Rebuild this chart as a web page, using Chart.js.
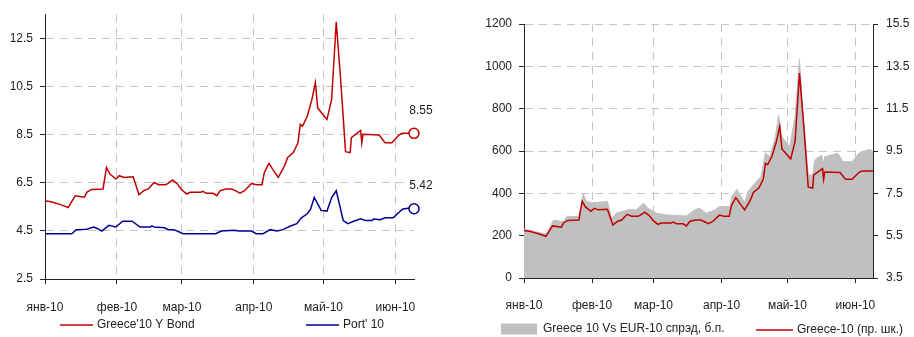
<!DOCTYPE html>
<html>
<head>
<meta charset="utf-8">
<script src="https://cdn.jsdelivr.net/npm/chart.js@4"></script>
<style>
  body { margin: 0; background: #fff; }
  canvas { position: absolute; top: 0; }
  #left { left: 0; }
  #right { left: 457px; }
</style>
</head>
<body>
<canvas id="left" width="457" height="337"></canvas>
<canvas id="right" width="457" height="337"></canvas>
<script>
// data (x = day of 2010, 0 = 1 Jan)
const monthDays = [0, 31, 59, 90, 120, 151];
const monthLabels = ['янв-10', 'фев-10', 'мар-10', 'апр-10', 'май-10', 'июн-10'];
const yieldTicks = [2.5, 4.5, 6.5, 8.5, 10.5, 12.5];
const spreadTicks = [0, 200, 400, 600, 800, 1000, 1200];
const rightYieldTicks = [3.5, 5.5, 7.5, 9.5, 11.5, 13.5, 15.5];

const greeceDays = [0, 3, 7, 10, 12, 13, 17, 18, 20, 25, 26.5, 28, 30.5, 32, 34, 38, 40.5, 42.5, 44.5, 47,
  49, 52, 53, 55, 57, 59, 61, 62.5, 67, 68, 69.5, 72.5, 74, 75.5, 78, 80.5, 82, 84, 86, 89,
  91, 93.5, 94.5, 96.5, 98.5, 100.5, 102.5, 103.5, 104.5, 107, 109, 110, 111, 113, 115, 116.5, 117.5, 121.5, 123.5, 125.5,
  127.5, 129.5, 131.5, 132, 136, 136.5, 137, 144, 146.5, 149.5, 152.5, 154, 159];
const greeceYield = [5.75, 5.70, 5.58, 5.47, 5.80, 5.96, 5.90, 6.10, 6.22, 6.24, 7.13, 6.86, 6.65, 6.79, 6.72, 6.75, 6.00, 6.17, 6.24, 6.51,
  6.42, 6.42, 6.47, 6.61, 6.45, 6.20, 6.03, 6.10, 6.10, 6.14, 6.06, 6.06, 5.96, 6.17, 6.24, 6.24, 6.17, 6.07, 6.17, 6.47,
  6.42, 6.42, 6.92, 7.30, 7.00, 6.72, 7.06, 7.27, 7.54, 7.75, 8.16, 8.92, 8.85, 9.26, 9.95, 10.66, 9.60, 9.13, 9.95, 13.18,
  10.64, 7.79, 7.75, 8.37, 8.67, 8.16, 8.51, 8.48, 8.16, 8.16, 8.48, 8.55, 8.55];

const portDays = [0, 11.5, 13.5, 18, 21, 22.5, 24.5, 27.5, 30.5, 33.5, 37.5, 41, 45.5, 46, 47, 51.5, 53, 55.5, 59.5, 73.5,
  76, 81.5, 83.5, 89, 91, 94, 97, 100, 102.5, 105.5, 108.5, 110.5, 113, 114.5, 116, 119, 121.5, 123.5, 125.5, 128.5,
  130.5, 133, 136, 138, 141, 141.5, 144.5, 146.5, 150, 154, 157, 159];
const portYield = [4.38, 4.38, 4.55, 4.57, 4.66, 4.60, 4.49, 4.73, 4.66, 4.90, 4.90, 4.66, 4.66, 4.71, 4.66, 4.63, 4.55, 4.55, 4.38, 4.38,
  4.49, 4.52, 4.49, 4.49, 4.38, 4.38, 4.55, 4.49, 4.55, 4.69, 4.80, 5.04, 5.21, 5.41, 5.89, 5.35, 5.32, 5.87, 6.17, 4.93,
  4.80, 4.90, 5.00, 4.93, 4.93, 4.99, 4.96, 5.04, 5.04, 5.40, 5.45, 5.42];

const spreadDays = [0, 5, 10, 13.5, 18, 19.5, 25, 27, 28.5, 31, 38, 40, 42, 48, 51, 54.5, 56.5, 60.5, 65, 74,
  78, 80, 83, 87, 89, 94, 94.5, 97, 100.5, 102, 105, 108, 110, 112, 114.5, 116, 117.5, 121, 123.5, 125.5,
  127, 129.5, 131.5, 132.5, 135.5, 136.5, 137, 143, 145.5, 149.5, 152.5, 155.5, 157.5, 159];
const spreadBp = [231, 219, 208, 274, 266, 290, 290, 397, 361, 356, 361, 282, 306, 324, 321, 353, 329, 306, 298, 293,
  324, 329, 306, 321, 337, 337, 384, 419, 356, 408, 447, 479, 592, 573, 667, 770, 667, 620, 762, 1033,
  794, 487, 487, 557, 581, 542, 573, 589, 549, 549, 589, 601, 608, 597];

const RED = '#c00000';
const BLUE = '#000096';
const GRAY = '#c0c0c0';
const GRID = '#c4c4c4';
const AXIS = '#222';

Chart.defaults.font.family = '"Liberation Sans", Arial, sans-serif';
Chart.defaults.font.size = 12;
Chart.defaults.color = '#222';

const pts = (xs, ys) => xs.map((x, i) => ({x, y: ys[i]}));

function xScale(height, pad) {
  return {
    type: 'linear', min: 0, max: 159,
    afterBuildTicks: s => { s.ticks = monthDays.map(v => ({value: v})); },
    afterFit: s => { s.height = height; },
    ticks: { callback: (v, i) => monthLabels[i], autoSkip: false, maxRotation: 0, padding: pad },
    grid: { color: c => c.index === 0 ? 'transparent' : GRID, tickColor: AXIS, tickLength: 5 },
    border: { color: AXIS, width: 1, dash: [8, 6] }
  };
}

function yScale(min, max, tickList, width, fmt, opts) {
  return Object.assign({
    min, max,
    afterBuildTicks: s => { s.ticks = tickList.map(v => ({value: v})); },
    afterFit: s => { s.width = width; },
    ticks: { callback: fmt, padding: 7 },
    grid: { color: c => c.index === 0 ? 'transparent' : GRID, tickColor: AXIS, tickLength: 5 },
    border: { color: AXIS, width: 1, dash: [8, 6] }
  }, opts || {});
}

const manualLegend = {
  id: 'manualLegend',
  afterDraw(chart, args, opts) {
    if (!opts.items) return;
    const ctx = chart.ctx;
    ctx.save();
    ctx.font = '12px "Liberation Sans", Arial, sans-serif';
    ctx.textBaseline = 'middle';
    opts.items.forEach(item => {
      const ds = chart.data.datasets[item.dataset];
      if (item.box) {
        ctx.fillStyle = ds.backgroundColor;
        ctx.fillRect(item.x0, item.y - 5.5, item.x1 - item.x0, 11);
      } else {
        ctx.strokeStyle = ds.borderColor;
        ctx.lineWidth = 1.5;
        ctx.beginPath();
        ctx.moveTo(item.x0, item.y);
        ctx.lineTo(item.x1, item.y);
        ctx.stroke();
      }
      ctx.fillStyle = '#222';
      ctx.fillText(ds.label, item.tx, item.y);
    });
    ctx.restore();
  }
};

const endLabels = {
  id: 'endLabels',
  afterDatasetsDraw(chart, args, opts) {
    if (!opts.show) return;
    const ctx = chart.ctx;
    ctx.save();
    ctx.font = '12px "Liberation Sans", Arial, sans-serif';
    ctx.fillStyle = '#222';
    ctx.textAlign = 'center';
    ctx.textBaseline = 'middle';
    chart.data.datasets.forEach((ds, i) => {
      const meta = chart.getDatasetMeta(i);
      const el = meta.data[meta.data.length - 1];
      const v = ds.data[ds.data.length - 1].y;
      ctx.fillText(v.toFixed(2), el.x + 7, el.y - 23);
    });
    ctx.restore();
  }
};

const lastOnly = (r) => (c) => c.dataIndex === c.dataset.data.length - 1 ? r : 0;

// left chart
new Chart(document.getElementById('left'), {
  type: 'line',
  data: {
    datasets: [{
      label: "Greece'10 Y Bond",
      data: pts(greeceDays, greeceYield),
      borderColor: RED, borderWidth: 1.5,
      pointRadius: lastOnly(5), pointBackgroundColor: '#fff', pointBorderColor: RED, pointBorderWidth: 1.5,
      tension: 0, clip: false
    }, {
      label: "Port' 10",
      data: pts(portDays, portYield),
      borderColor: BLUE, borderWidth: 1.5,
      pointRadius: lastOnly(5), pointBackgroundColor: '#fff', pointBorderColor: BLUE, pointBorderWidth: 1.5,
      tension: 0, clip: false
    }]
  },
  options: {
    responsive: false, animation: false, devicePixelRatio: 1,
    layout: { padding: { top: 12, right: 43, left: 0, bottom: 0 } },
    scales: {
      x: xScale(58, 16),
      y: yScale(2.5, 13.5, yieldTicks, 45, v => v.toFixed(1))
    },
    plugins: {
      legend: { display: false },
      tooltip: { enabled: false },
      endLabels: { show: true },
      manualLegend: { items: [
        { dataset: 0, x0: 60, x1: 93, y: 325, tx: 97 },
        { dataset: 1, x0: 306, x1: 339, y: 325, tx: 343 }
      ] }
    }
  },
  plugins: [endLabels, manualLegend]
});

// right chart
new Chart(document.getElementById('right'), {
  type: 'line',
  data: {
    datasets: [{
      label: 'Greece-10 (пр. шк.)',
      data: pts(greeceDays, greeceYield),
      yAxisID: 'y1',
      borderColor: RED, borderWidth: 1.5, pointRadius: 0, tension: 0
    }, {
      label: 'Greece 10 Vs EUR-10 спрэд, б.п.',
      data: pts(spreadDays, spreadBp),
      yAxisID: 'y',
      borderColor: GRAY, borderWidth: 1, backgroundColor: GRAY,
      fill: 'origin', pointRadius: 0, tension: 0
    }]
  },
  options: {
    responsive: false, animation: false, devicePixelRatio: 1,
    layout: { padding: { top: 24, right: 0, left: 0, bottom: 0 } },
    scales: {
      x: xScale(59, 15),
      y: yScale(0, 1200, spreadTicks, 67, v => String(v)),
      y1: yScale(3.5, 15.5, rightYieldTicks, 41, v => v.toFixed(1), {
        position: 'right',
        grid: { drawOnChartArea: false, tickColor: AXIS, tickLength: 5 },
        ticks: { callback: v => v.toFixed(1), padding: 8 }
      })
    },
    plugins: {
      legend: { display: false },
      tooltip: { enabled: false },
      manualLegend: { items: [
        { dataset: 1, box: true, x0: 44, x1: 80, y: 329, tx: 86 },
        { dataset: 0, x0: 299, x1: 336, y: 330, tx: 340 }
      ] }
    }
  },
  plugins: [manualLegend]
});
</script>
</body>
</html>
